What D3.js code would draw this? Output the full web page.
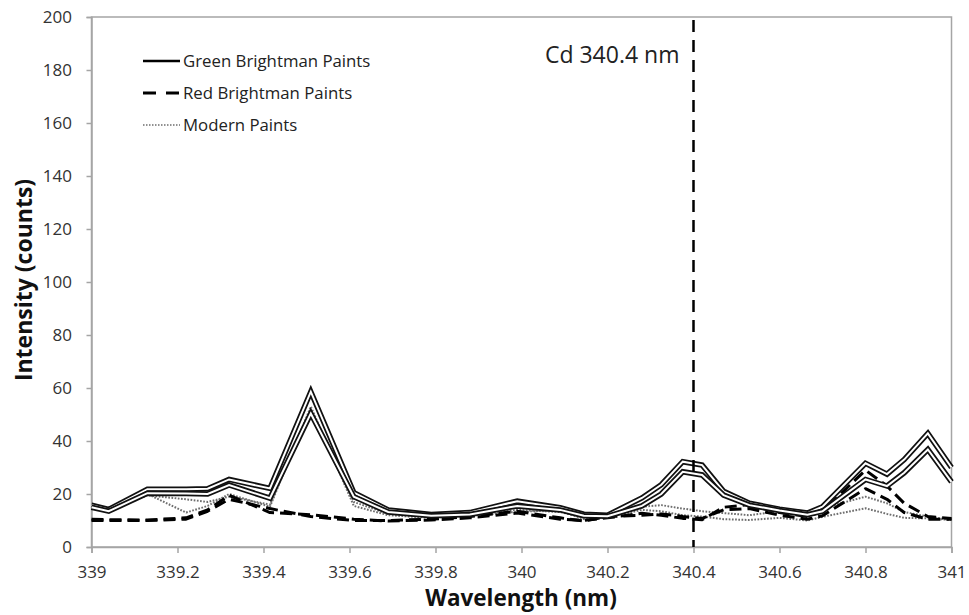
<!DOCTYPE html>
<html>
<head>
<meta charset="utf-8">
<script src="https://cdn.jsdelivr.net/npm/d3@7/dist/d3.min.js"></script>
<style>
  html, body { margin: 0; padding: 0; background: #fff; }
  svg { display: block; }
  .tick text { font-family: "Open Sans", sans-serif; font-size: 17px; fill: #333; }
</style>
</head>
<body>
<svg id="chart" width="969" height="615"></svg>
<script>
// Wavelength sampling (nm) shared by every spectrum
const wavelength = [339.00, 339.04, 339.13, 339.22, 339.27, 339.32, 339.415, 339.51, 339.61, 339.69,
                    339.79, 339.88, 339.99, 340.09, 340.145, 340.20, 340.28, 340.325, 340.375, 340.42,
                    340.47, 340.53, 340.60, 340.665, 340.70, 340.80, 340.85, 340.89, 340.945, 341.00];

// Intensity (counts) for each paint sample
const greenA = [15.8, 14.2, 21.8, 21.8, 22.0, 25.5, 22.1, 58.6, 20.5, 14.0,
                12.3, 13.0, 17.3, 14.8, 12.4, 12.0, 18.5, 23.5, 32.2, 30.9,
                21.0, 16.5, 14.3, 12.8, 15.2, 31.6, 27.5, 33.0, 42.9, 30.0];
const greenB = [15.0, 13.5, 20.3, 20.2, 20.0, 23.4, 18.4, 50.4, 19.0, 13.2,
                11.8, 12.3, 15.5, 14.0, 11.8, 11.6, 15.5, 20.0, 28.4, 27.2,
                19.6, 15.8, 13.8, 12.2, 13.5, 25.5, 23.0, 28.0, 36.8, 24.6];
const redA   = [10.5, 10.3, 10.2, 11.0, 14.0, 19.5, 13.0, 12.2, 10.5, 9.8,
                10.2, 11.0, 12.8, 10.5, 10.0, 11.0, 12.7, 12.0, 10.8, 10.3,
                15.0, 16.0, 13.0, 11.5, 13.5, 29.0, 23.0, 16.5, 11.5, 10.8];
const redB   = [10.0, 10.0, 10.0, 10.5, 13.5, 18.0, 14.5, 11.5, 10.0, 10.0,
                10.5, 11.5, 13.5, 11.0, 9.8, 11.5, 12.0, 12.5, 11.5, 10.8,
                14.0, 14.5, 12.0, 10.5, 11.8, 22.0, 18.0, 13.0, 10.5, 10.5];
const modernA = [15.5, 14.0, 20.0, 13.0, 15.5, 20.0, 15.2, 53.0, 15.5, 12.0,
                 11.0, 12.0, 14.0, 13.2, 11.0, 11.5, 15.2, 15.8, 14.5, 13.5,
                 12.8, 12.0, 13.5, 12.0, 14.6, 19.0, 16.5, 13.2, 11.5, 10.2];
const modernB = [15.0, 13.8, 19.5, 18.0, 17.0, 19.0, 16.0, 51.0, 17.0, 12.5,
                 11.5, 11.8, 13.3, 13.8, 10.5, 11.2, 14.0, 13.5, 12.0, 11.5,
                 10.5, 10.2, 11.0, 10.0, 11.4, 14.6, 12.5, 11.0, 10.8, 10.2];

const xTicks = [339, 339.2, 339.4, 339.6, 339.8, 340, 340.2, 340.4, 340.6, 340.8, 341];
const yTicks = [0, 20, 40, 60, 80, 100, 120, 140, 160, 180, 200];
const cadmiumLine = 340.4;
const cadmiumLabel = "Cd 340.4 nm";
const legendLabels = ["Green Brightman Paints", "Red Brightman Paints", "Modern Paints"];

const svg = d3.select("#chart");
const plotLeft = 91.5, plotRight = 951.5, plotTop = 17, plotBottom = 547;

const x = d3.scaleLinear().domain([339, 341]).range([plotLeft, plotRight]);
const y = d3.scaleLinear().domain([0, 200]).range([plotBottom, plotTop]);

// Plot frame
svg.append("rect")
  .attr("x", plotLeft).attr("y", plotTop)
  .attr("width", plotRight - plotLeft).attr("height", plotBottom - plotTop)
  .attr("fill", "none").attr("stroke", "#a5a5a5").attr("stroke-width", 1.5);

// Axes
const fmt = d => String(+d.toFixed(1));
const yAxis = svg.append("g").attr("transform", `translate(${plotLeft},0)`)
  .call(d3.axisLeft(y).tickValues(yTicks).tickSize(5).tickPadding(14.5).tickFormat(fmt));
const xAxis = svg.append("g").attr("transform", `translate(0,${plotBottom})`)
  .call(d3.axisBottom(x).tickValues(xTicks).tickSize(6).tickPadding(13).tickFormat(fmt));
[yAxis, xAxis].forEach(g => {
  g.select(".domain").attr("stroke", "#a5a5a5").attr("stroke-width", 1.5);
  g.selectAll(".tick line").attr("stroke", "#a5a5a5").attr("stroke-width", 1.5);
});

// Axis titles
svg.append("text")
  .attr("x", 521).attr("y", 606)
  .attr("text-anchor", "middle")
  .style("font-family", "'Open Sans', sans-serif").style("font-weight", "bold")
  .style("font-size", "22.5px").attr("fill", "#111")
  .text("Wavelength (nm)");
svg.append("text")
  .attr("transform", `translate(32,280) rotate(-90)`)
  .attr("text-anchor", "middle")
  .style("font-family", "'Open Sans', sans-serif").style("font-weight", "bold")
  .style("font-size", "23px").attr("fill", "#111")
  .text("Intensity (counts)");

const line = d3.line().x((d, i) => x(wavelength[i])).y(d => y(d));
const plot = svg.append("g");

// Modern paints: fine grey dots
[modernA, modernB].forEach(s => {
  plot.append("path").attr("d", line(s)).attr("fill", "none")
    .attr("stroke", "#6e6e6e").attr("stroke-width", 2)
    .attr("stroke-dasharray", "1.7,1.5").attr("stroke-linejoin", "round");
});

// Red Brightman paints: heavy dashes
[redA, redB].forEach(s => {
  plot.append("path").attr("d", line(s)).attr("fill", "none")
    .attr("stroke", "#000").attr("stroke-width", 3)
    .attr("stroke-dasharray", "12,6").attr("stroke-linejoin", "round");
});

// Green Brightman paints: solid lines drawn as an outlined stroke
[greenA, greenB].forEach(s => {
  plot.append("path").attr("d", line(s)).attr("fill", "none")
    .attr("stroke", "#111").attr("stroke-width", 5.5).attr("stroke-linejoin", "miter");
  plot.append("path").attr("d", line(s)).attr("fill", "none")
    .attr("stroke", "#fff").attr("stroke-width", 2).attr("stroke-linejoin", "miter");
});

// Cd emission line marker
svg.append("line")
  .attr("x1", x(cadmiumLine)).attr("x2", x(cadmiumLine))
  .attr("y1", plotTop + 3).attr("y2", plotBottom)
  .attr("stroke", "#000").attr("stroke-width", 2.5)
  .attr("stroke-dasharray", "12,8");
svg.append("text")
  .attr("x", x(cadmiumLine) - 14).attr("y", 63)
  .attr("text-anchor", "end")
  .style("font-family", "'Open Sans', sans-serif").style("font-size", "23px")
  .attr("fill", "#222")
  .text(cadmiumLabel);

// Legend
const legend = svg.append("g");
const legendStyles = [
  { dash: null, width: 2.5, color: "#000" },
  { dash: "13,10", width: 3, color: "#000" },
  { dash: "1.5,1.5", width: 1.6, color: "#6e6e6e" }
];
legendLabels.forEach((label, i) => {
  const ly = 61 + i * 32;
  const st = legendStyles[i];
  const l = legend.append("line")
    .attr("x1", 143).attr("x2", 180).attr("y1", ly).attr("y2", ly)
    .attr("stroke", st.color).attr("stroke-width", st.width);
  if (st.dash) l.attr("stroke-dasharray", st.dash);
  legend.append("text")
    .attr("x", 183).attr("y", ly).attr("dy", "0.35em")
    .style("font-family", "'Open Sans', sans-serif").style("font-size", "16.8px")
    .attr("fill", "#222")
    .text(label);
});
</script>
</body>
</html>
